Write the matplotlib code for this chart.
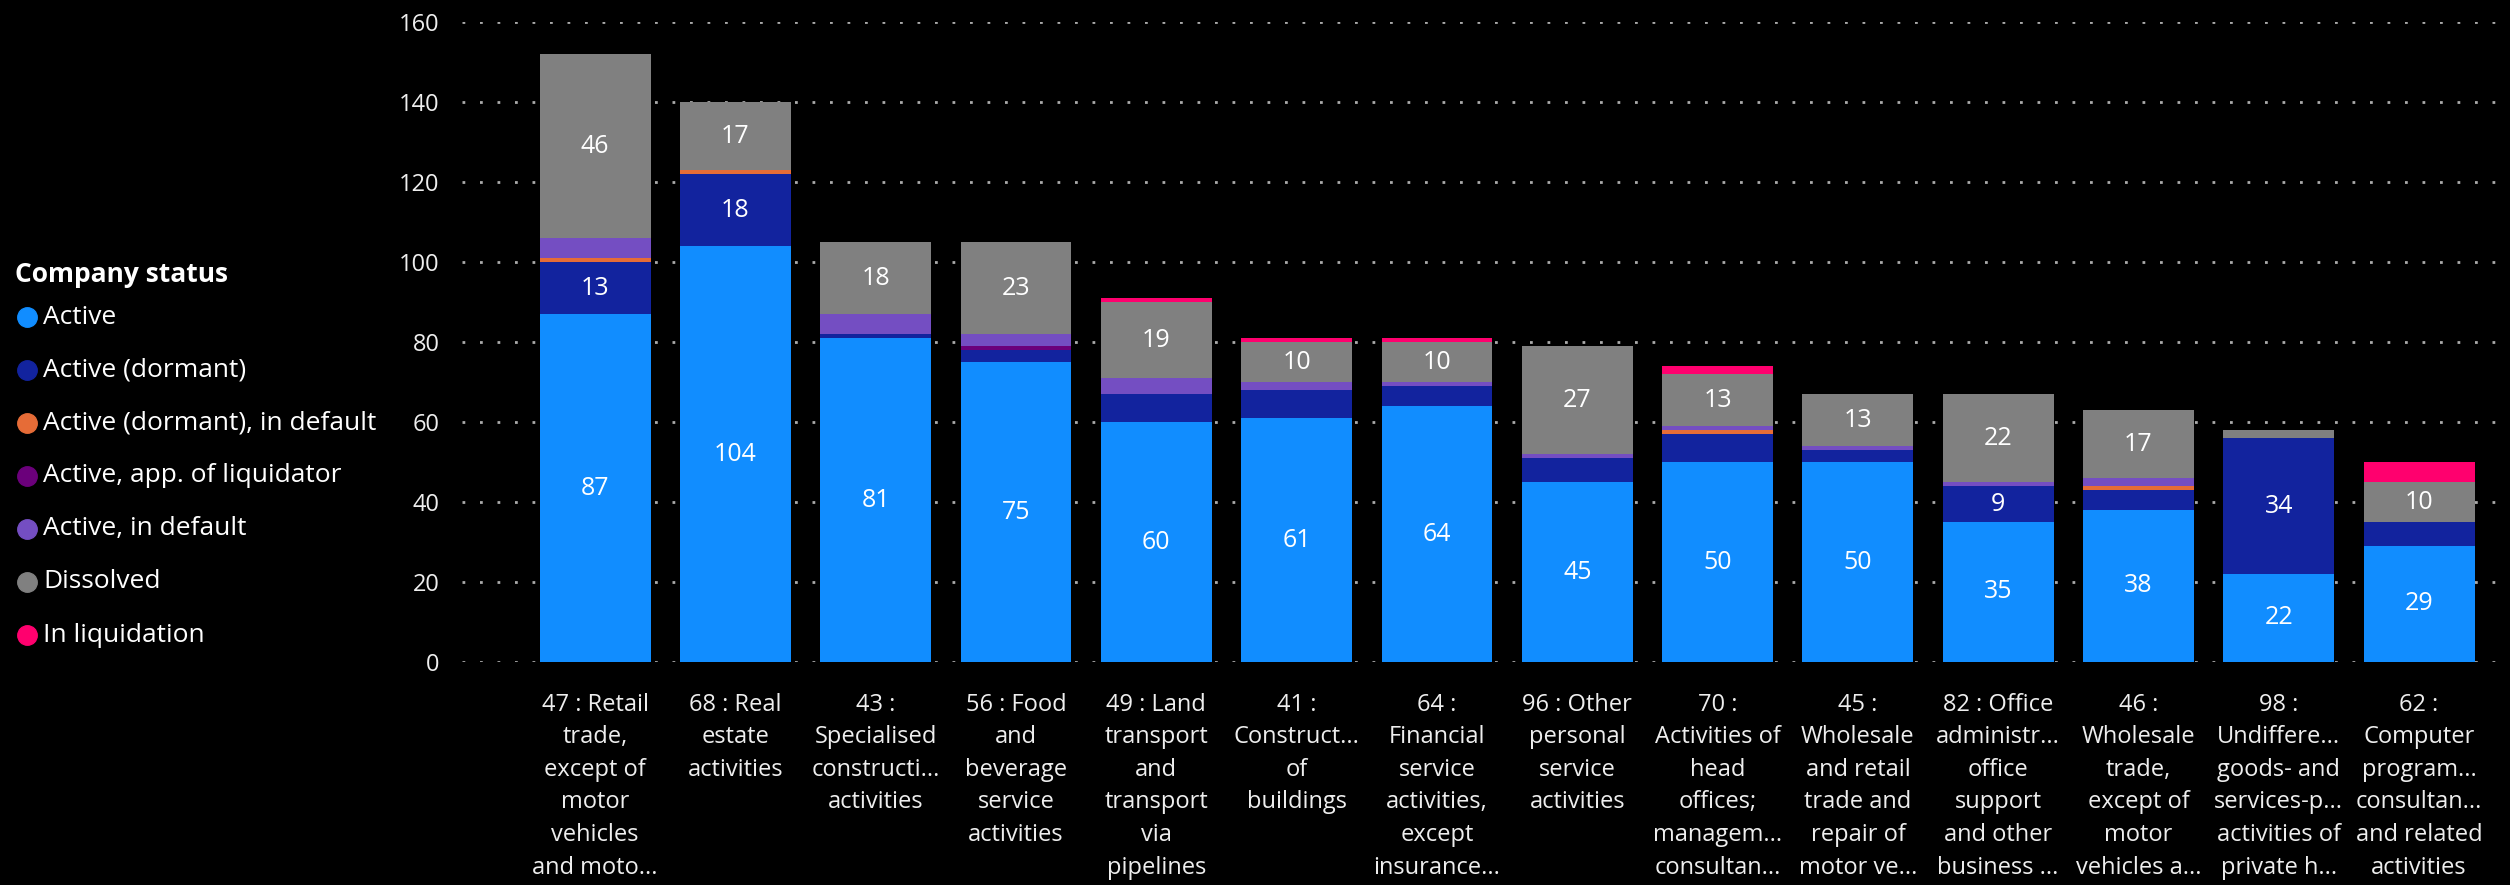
import numpy as np
import matplotlib
matplotlib.use('Agg')
import matplotlib.pyplot as plt
from matplotlib.lines import Line2D

plt.rcParams['font.family'] = ['Open Sans', 'DejaVu Sans']

categories = ['47 : Retail\ntrade,\nexcept of\nmotor\nvehicles\nand moto...',
              '68 : Real\nestate\nactivities',
              '43 :\nSpecialised\nconstructi...\nactivities',
              '56 : Food\nand\nbeverage\nservice\nactivities',
              '49 : Land\ntransport\nand\ntransport\nvia\npipelines',
              '41 :\nConstruct...\nof\nbuildings',
              '64 :\nFinancial\nservice\nactivities,\nexcept\ninsurance...',
              '96 : Other\npersonal\nservice\nactivities',
              '70 :\nActivities of\nhead\noffices;\nmanagem...\nconsultan...',
              '45 :\nWholesale\nand retail\ntrade and\nrepair of\nmotor ve...',
              '82 : Office\nadministr...\noffice\nsupport\nand other\nbusiness ...',
              '46 :\nWholesale\ntrade,\nexcept of\nmotor\nvehicles a...',
              '98 :\nUndiffere...\ngoods- and\nservices-p...\nactivities of\nprivate h...',
              '62 :\nComputer\nprogram...\nconsultan...\nand related\nactivities']

statuses = ['Active', 'Active (dormant)', 'Active (dormant), in default',
            'Active, app. of liquidator', 'Active, in default', 'Dissolved', 'In liquidation']
colors = ['#118DFF', '#12239E', '#E66C37', '#6B007B', '#744EC2', '#808080', '#FF006E']

active = [87, 104, 81, 75, 60, 61, 64, 45, 50, 50, 35, 38, 22, 29]
dormant = [13, 18, 1, 3, 7, 7, 5, 6, 7, 3, 9, 5, 34, 6]
dormant_default = [1, 1, 0, 0, 0, 0, 0, 0, 1, 0, 0, 1, 0, 0]
liquidator = [0, 0, 0, 1, 0, 0, 0, 0, 0, 0, 0, 0, 0, 0]
in_default = [5, 0, 5, 3, 4, 2, 1, 1, 1, 1, 1, 2, 0, 0]
dissolved = [46, 17, 18, 23, 19, 10, 10, 27, 13, 13, 22, 17, 2, 10]
in_liquidation = [0, 0, 0, 0, 1, 1, 1, 0, 2, 0, 0, 0, 0, 5]

series = [active, dormant, dormant_default, liquidator, in_default, dissolved, in_liquidation]

fig = plt.figure(figsize=(25.1, 8.85), dpi=100, facecolor='black')
ax = fig.add_axes([0.184, 0.252, 0.815, 0.723])
ax.set_facecolor('black')

x = np.arange(len(categories))
bottom = np.zeros(len(categories))
for vals, col in zip(series, colors):
    vals = np.array(vals, dtype=float)
    ax.bar(x, vals, bottom=bottom, width=0.79, color=col, zorder=2)
    for xi, b, v in zip(x, bottom, vals):
        if v >= 9:
            ax.text(xi, b + v / 2, '%d' % v, ha='center', va='center',
                    color='white', fontsize=18, zorder=3)
    bottom += vals

ax.set_xlim(-0.95, 13.63)
ax.set_ylim(0, 160)
ax.set_yticks(np.arange(0, 161, 20))
ax.set_xticks(x)
ax.set_xticklabels(categories, fontsize=17, color='#EEEEEE', linespacing=1.48, va='top')
ax.tick_params(axis='y', length=0, pad=16, labelsize=17, labelcolor='#EEEEEE')
ax.tick_params(axis='x', length=0, pad=22)
ax.grid(axis='y', color='#AAAAAA', linewidth=2, linestyle=(0, (1, 5.3)), zorder=0)
ax.set_axisbelow(True)
for s in ax.spines.values():
    s.set_visible(False)

# legend
fig.text(15 / 2510, 1 - 275 / 885, 'Company status', fontsize=19, fontweight='bold',
         color='white', va='center', ha='left')
for i, (name, col) in enumerate(zip(statuses, colors)):
    yy = 1 - (317 + 53 * i) / 885
    fig.add_artist(Line2D([27 / 2510], [yy], marker='o', markersize=14, color=col,
                          linestyle='none', transform=fig.transFigure))
    fig.text(43 / 2510, yy, name, fontsize=19, color='white', va='center', ha='left')

fig.savefig('out.png', dpi=100, facecolor='black')
